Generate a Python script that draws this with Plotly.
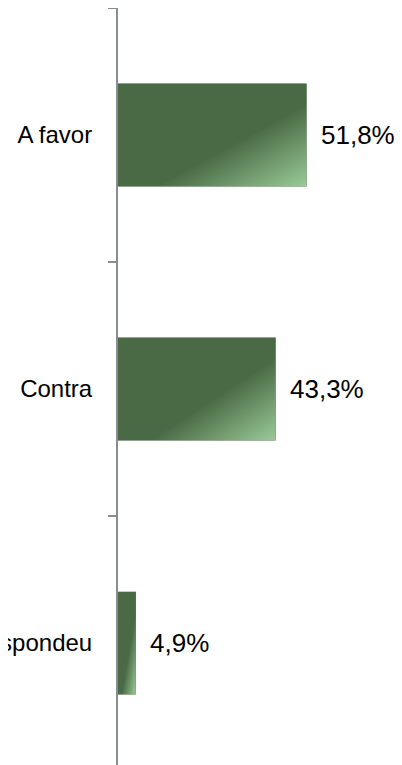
import plotly.graph_objects as go
import urllib.parse

categories = ['A favor', 'Contra', 'Não respondeu']
values = [51.8, 43.3, 4.9]
value_labels = ['51,8%', '43,3%', '4,9%']

dark_green = '#4a6a45'
light_green = '#9acb98'
axis_gray = '#878c95'
font_family = 'Liberation Sans, Arial, sans-serif'
bar_width = 0.405

# diagonal gradient, same look as the original bars
grad_svg = (
    "<svg xmlns='http://www.w3.org/2000/svg' width='100' height='100' preserveAspectRatio='none'>"
    "<defs><linearGradient id='g' x1='0' y1='0' x2='1' y2='1'>"
    f"<stop offset='0.6' stop-color='{dark_green}'/>"
    f"<stop offset='1' stop-color='{light_green}'/>"
    "</linearGradient></defs>"
    "<rect width='100' height='100' fill='url(#g)'/></svg>"
)
grad_src = 'data:image/svg+xml;charset=utf-8,' + urllib.parse.quote(grad_svg)

fig = go.Figure()

fig.add_trace(go.Bar(y=categories,
                     x=values,
                     orientation='h',
                     width=bar_width,
                     marker=dict(color=dark_green, line=dict(width=0)),
                     hoverinfo='skip'))

for i, (v, lab) in enumerate(zip(values, value_labels)):
    fig.add_layout_image(dict(source=grad_src, xref='x', yref='y',
                              x=0, y=i - bar_width / 2,
                              sizex=v, sizey=bar_width,
                              xanchor='left', yanchor='top',
                              sizing='stretch', layer='above'))
    fig.add_annotation(x=v, y=categories[i], text=lab, showarrow=False,
                       xanchor='left', xshift=12,
                       font=dict(size=26, color='#000000', family=font_family))

# page body has an 8px margin, so the figure is a bit smaller than the window
fig.update_layout(
    width=394, height=757,
    margin=dict(l=110, r=0, t=0, b=0),
    plot_bgcolor='white', paper_bgcolor='white',
    showlegend=False,
    font=dict(family=font_family, size=24, color='#000000'),
)

fig.update_xaxes(range=[0, 78], visible=False, showgrid=False, zeroline=False)
fig.update_yaxes(categoryorder='array', categoryarray=categories,
                 range=[2.48, -0.5], automargin=False,
                 showline=True, linecolor=axis_gray, linewidth=2,
                 ticks='outside', tickson='boundaries', ticklen=8,
                 tickcolor=axis_gray, tickwidth=2,
                 ticklabelstandoff=19, showgrid=False, zeroline=False)

fig.write_html('out.html')
